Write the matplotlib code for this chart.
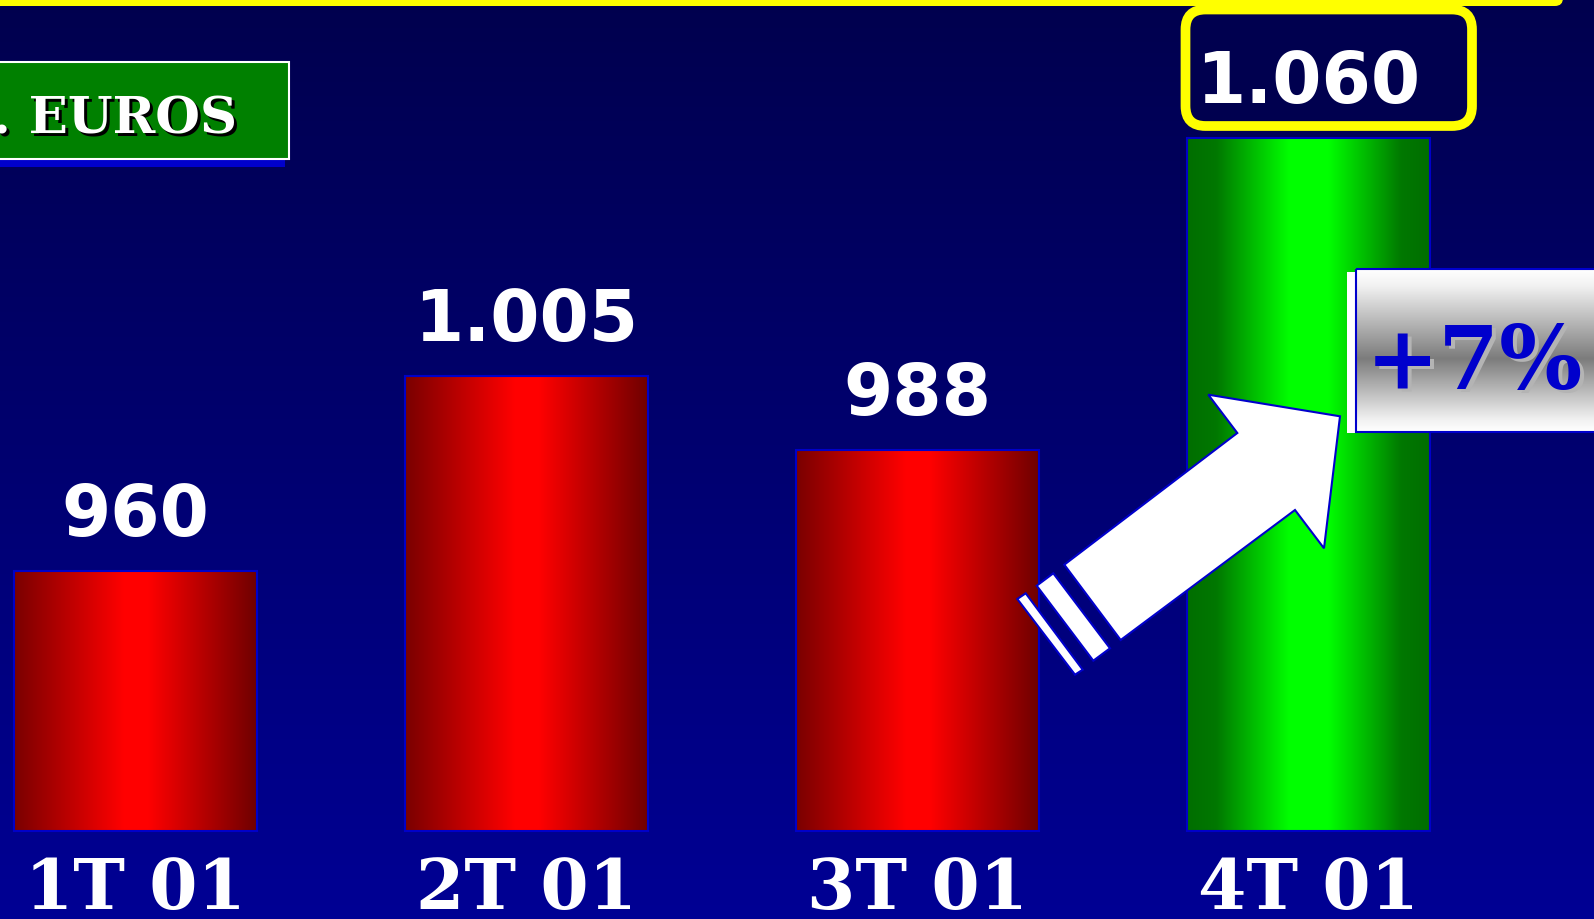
import numpy as np
import matplotlib
matplotlib.use('Agg')
import matplotlib.pyplot as plt
import matplotlib.transforms as mtransforms
from matplotlib.colors import LinearSegmentedColormap
from matplotlib.patches import Rectangle, FancyBboxPatch, Polygon

# data
quarters = ['1T 01', '2T 01', '3T 01', '4T 01']
ventas = [960, 1005, 988, 1060]
bar_kind = ['red', 'red', 'red', 'green']
unit_label = '. EUROS'
base = 900

W, H = 1594, 920
fig = plt.figure(figsize=(W / 100, H / 100), dpi=100)
ax = fig.add_axes([0, 0, 1, 1])
ax.set_axis_off()

# pixel coords, origin top-left, for the slide decorations
px = mtransforms.Affine2D().scale(1 / W, -1 / H).translate(0, 1) + fig.transFigure

# background gradient
bg_cmap = LinearSegmentedColormap.from_list('bg', ['#00004e', '#000070', '#000094'])
ax.imshow(np.linspace(0, 1, 256).reshape(-1, 1), cmap=bg_cmap, extent=(0, W, H, 0),
          origin='upper', transform=px, aspect='auto', zorder=0)

# bars with horizontal gradients
red_cmap = LinearSegmentedColormap.from_list('r', [(0, '#7a0000'), (0.45, '#ff0000'), (0.55, '#ff0000'),
                                                   (1, '#6e0000')])
green_cmap = LinearSegmentedColormap.from_list('g', [(0, '#006e00'), (0.12, '#007800'), (0.42, '#00ff00'),
                                                     (0.58, '#00ff00'), (0.88, '#007800'), (1, '#006e00')])
w = 0.6215
x = np.arange(len(ventas))
grad = np.linspace(0, 1, 256).reshape(1, -1)
for i, (v, k) in enumerate(zip(ventas, bar_kind)):
    cm = red_cmap if k == 'red' else green_cmap
    ax.imshow(grad, cmap=cm, extent=(i - w / 2, i + w / 2, base, v), aspect='auto',
              interpolation='bilinear', zorder=2)
ax.bar(x, [v - base for v in ventas], bottom=base, width=w, facecolor='none',
       edgecolor='#0000c8', linewidth=1.5, zorder=3)

# value labels
for i, v in enumerate(ventas):
    txt = f'{v:,}'.replace(',', '.')
    ax.text(i, v + 8.3, txt, ha='center', va='baseline', color='white', fontsize=51,
            fontweight='bold', family='DejaVu Sans', zorder=5)

# quarter labels
for i, q in enumerate(quarters):
    ax.text(i, 882.3, q, ha='center', va='baseline', color='white', fontsize=50,
            fontweight='bold', family='DejaVu Serif', zorder=5)

# highlight box round last value
ax.add_patch(FancyBboxPatch((1185.5, 10.5), 286.5, 116.5, boxstyle='round,pad=0,rounding_size=20',
                            fc='#00004f', ec='#ffff00', lw=7, transform=px, zorder=4))

# yellow frame edge at the top
ax.add_patch(FancyBboxPatch((-30, -30), 1593, 37, boxstyle='round,pad=0,rounding_size=8',
                            fc='#ffff00', ec='none', transform=px, zorder=9))

# unit box top-left
ax.add_patch(Rectangle((-10, 160), 295, 7.5, fc='#0000cc', ec='none', transform=px, zorder=6))
ax.add_patch(Rectangle((-10, 63.3), 298.7, 96.7, fc='#008000', ec='white', lw=1.5, transform=px, zorder=7))
ax.text(240, 136.3, unit_label, ha='right', va='baseline', color='black', fontsize=37,
        fontweight='bold', family='DejaVu Serif', transform=px, zorder=8)
ax.text(237, 133.3, unit_label, ha='right', va='baseline', color='white', fontsize=37,
        fontweight='bold', family='DejaVu Serif', transform=px, zorder=8)

# arrow
arrow = [(1340, 417.3), (1208.3, 395.7), (1237.3, 434), (1064.3, 565.7),
         (1120.7, 641), (1295, 511), (1324, 549.3)]
stripe_a = [(1036.7, 586.7), (1053.3, 574.3), (1110, 649.3), (1093.3, 661.7)]
stripe_b = [(1017.3, 600), (1025.7, 594.3), (1082.7, 670.7), (1075, 675.7)]
for pts in [arrow, stripe_a, stripe_b]:
    ax.add_patch(Polygon(pts, closed=True, fc='white', ec='#0000cc', lw=1.5,
                         joinstyle='miter', transform=px, zorder=6))

# growth box
pct = round((ventas[3] - ventas[2]) / ventas[2] * 100)
ax.add_patch(Rectangle((1346.7, 272.7), 260, 161.6, fc='white', ec='none', transform=px, zorder=7))
gray_cmap = LinearSegmentedColormap.from_list('gr', [(0, '#ffffff'), (0.1, '#f2f2f2'), (0.55, '#7c7c7c'),
                                                     (0.92, '#f0f0f0'), (1, '#ffffff')])
ax.imshow(np.linspace(0, 1, 256).reshape(-1, 1), cmap=gray_cmap, extent=(1356, 1620, 432.7, 270),
          origin='upper', transform=px, aspect='auto', interpolation='bilinear', zorder=7.5)
ax.add_patch(Rectangle((1356, 270), 260, 162.7, fc='none', ec='#0000cc', lw=1.5, transform=px, zorder=8))
ax.text(1478, 392, f'+{pct}%', ha='center', va='baseline', color='#b4b4b4', fontsize=63,
        fontweight='bold', family='DejaVu Serif', transform=px, zorder=8.5)
ax.text(1474, 389, f'+{pct}%', ha='center', va='baseline', color='#0000cc', fontsize=63,
        fontweight='bold', family='DejaVu Serif', transform=px, zorder=9)

ax.set_xlim(-0.3458, 3.731)
ax.set_ylim(879.8, 1092.1)

fig.savefig('out.png', dpi=100)
